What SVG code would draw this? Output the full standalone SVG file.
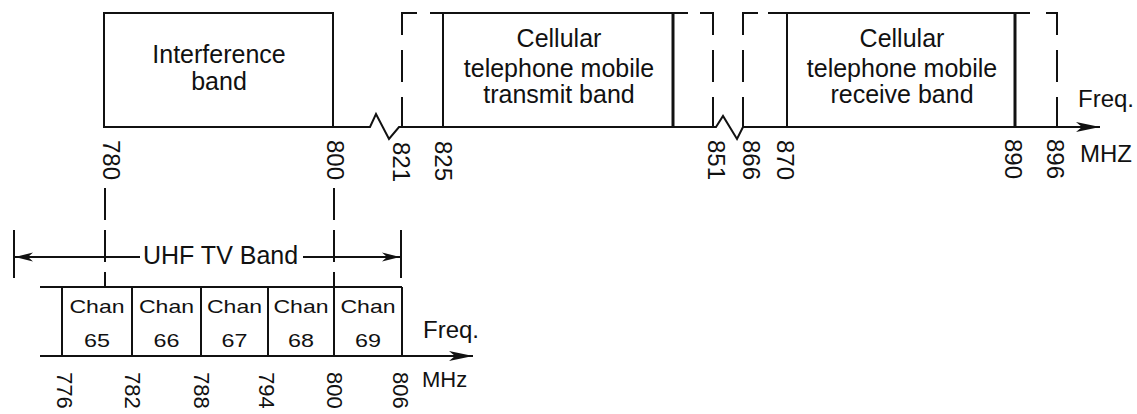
<svg xmlns="http://www.w3.org/2000/svg" width="1137" height="414" viewBox="0 0 1137 414">
<style>
.ln{stroke:#111;stroke-width:2;fill:none}
.thk{stroke:#111;stroke-width:3;fill:none}
.dsh{stroke:#111;stroke-width:2;fill:none;stroke-dasharray:22 15 32 15 40}
.dsh2{stroke:#111;stroke-width:2;fill:none;stroke-dasharray:32 10}
.t{font-family:"Liberation Sans",Arial,sans-serif;fill:#111;font-size:25px}
.c{text-anchor:middle}
.r{font-family:"Liberation Sans",Arial,sans-serif;fill:#111;font-size:24px}
.rb{font-family:"Liberation Sans",Arial,sans-serif;fill:#111;font-size:22px}
.ch{font-family:"Liberation Sans",Arial,sans-serif;fill:#111;font-size:19px;text-anchor:middle}
</style>
<defs>
<marker id="arr" markerWidth="26" markerHeight="12" refX="24" refY="6" orient="auto" markerUnits="userSpaceOnUse">
<path d="M0,1 L24,6 L0,11 L6,6 z" fill="#111"/>
</marker>
<marker id="arrs" markerWidth="20" markerHeight="10" refX="18" refY="5" orient="auto-start-reverse" markerUnits="userSpaceOnUse">
<path d="M0,0.5 L18,5 L0,9.5 L5,5 z" fill="#111"/>
</marker>
</defs>
<rect width="1137" height="414" fill="#fff"/>

<g id="connectors">
<!-- top axis with breaks -->
<path class="ln" d="M104,127 H370 L376,114 L389,139 L399,127 H716 L723,116 L737,139 L743,127 H1100" marker-end="url(#arr)"/>
<!-- lower dashed extension lines -->
<line class="dsh2" x1="105" y1="188" x2="105" y2="287"/>
<line class="dsh2" x1="334" y1="188" x2="334" y2="287"/>
<!-- UHF TV band dimension -->
<line class="ln" x1="14" y1="230" x2="14" y2="278"/>
<line class="ln" x1="401" y1="230" x2="401" y2="278"/>
<line class="ln" x1="140" y1="257" x2="15" y2="257" marker-end="url(#arrs)"/>
<line class="ln" x1="303" y1="257" x2="400" y2="257" marker-end="url(#arrs)"/>
<!-- lower axis -->
<line class="ln" x1="40" y1="356" x2="473" y2="356" marker-end="url(#arr)"/>
</g>

<g id="interference-band">
<rect class="ln" x="104" y="13" width="229" height="114"/>
<text class="t c" x="219" y="63">Interference</text>
<text class="t c" x="219" y="90">band</text>
</g>

<g id="transmit-band">
<line class="dsh" x1="402" y1="13" x2="402" y2="127"/>
<line class="dsh" x1="713" y1="13" x2="713" y2="127"/>
<line class="ln" x1="401" y1="13" x2="417" y2="13"/>
<line class="ln" x1="430" y1="13" x2="688" y2="13"/>
<line class="ln" x1="700" y1="13" x2="714" y2="13"/>
<line class="ln" x1="443" y1="13" x2="443" y2="127"/>
<line class="thk" x1="673" y1="13" x2="673" y2="127"/>
<text class="t c" x="559" y="47">Cellular</text>
<text class="t c" x="559" y="77">telephone mobile</text>
<text class="t c" x="559" y="103">transmit band</text>
</g>

<g id="receive-band">
<line class="dsh" x1="743" y1="13" x2="743" y2="127"/>
<line class="dsh" x1="1057" y1="13" x2="1057" y2="127"/>
<line class="ln" x1="742" y1="13" x2="758" y2="13"/>
<line class="ln" x1="768" y1="13" x2="1030" y2="13"/>
<line class="ln" x1="1046" y1="13" x2="1058" y2="13"/>
<line class="ln" x1="787" y1="13" x2="787" y2="127"/>
<line class="thk" x1="1015" y1="13" x2="1015" y2="127"/>
<text class="t c" x="902" y="47">Cellular</text>
<text class="t c" x="902" y="77">telephone mobile</text>
<text class="t c" x="902" y="103">receive band</text>
</g>

<g id="top-scale">
<text class="r" transform="translate(103,140) rotate(90)">780</text>
<text class="r" transform="translate(327,140) rotate(90)">800</text>
<text class="r" transform="translate(393,142) rotate(90)">821</text>
<text class="r" transform="translate(435,141) rotate(90)">825</text>
<text class="r" transform="translate(708,140) rotate(90)">851</text>
<text class="r" transform="translate(743,140) rotate(90)">866</text>
<text class="r" transform="translate(777,140) rotate(90)">870</text>
<text class="r" transform="translate(1005,139) rotate(90)">890</text>
<text class="r" transform="translate(1047,139) rotate(90)">896</text>
<text class="r" x="1078" y="107">Freq.</text>
<text class="r" x="1080" y="162">MHZ</text>
</g>

<g id="uhf-label">
<text class="t" x="143" y="264">UHF TV Band</text>
</g>

<g id="channels">
<line class="ln" x1="40" y1="287" x2="402" y2="287"/>
<line class="ln" x1="62" y1="287" x2="62" y2="356"/>
<line class="ln" x1="132" y1="287" x2="132" y2="356"/>
<line class="ln" x1="201" y1="287" x2="201" y2="356"/>
<line class="ln" x1="268" y1="287" x2="268" y2="356"/>
<line class="ln" x1="334" y1="287" x2="334" y2="356"/>
<line class="ln" x1="402" y1="287" x2="402" y2="356"/>
<text class="ch" x="97" y="313" textLength="55" lengthAdjust="spacingAndGlyphs">Chan</text>
<text class="ch" x="166.5" y="313" textLength="55" lengthAdjust="spacingAndGlyphs">Chan</text>
<text class="ch" x="234.5" y="313" textLength="55" lengthAdjust="spacingAndGlyphs">Chan</text>
<text class="ch" x="301" y="313" textLength="55" lengthAdjust="spacingAndGlyphs">Chan</text>
<text class="ch" x="368" y="313" textLength="55" lengthAdjust="spacingAndGlyphs">Chan</text>
<text class="ch" x="97" y="347" textLength="26" lengthAdjust="spacingAndGlyphs">65</text>
<text class="ch" x="166.5" y="347" textLength="26" lengthAdjust="spacingAndGlyphs">66</text>
<text class="ch" x="234.5" y="347" textLength="26" lengthAdjust="spacingAndGlyphs">67</text>
<text class="ch" x="301" y="347" textLength="26" lengthAdjust="spacingAndGlyphs">68</text>
<text class="ch" x="368" y="347" textLength="26" lengthAdjust="spacingAndGlyphs">69</text>
</g>

<g id="bottom-scale">
<text class="rb" transform="translate(57,372) rotate(90)">776</text>
<text class="rb" transform="translate(125,372) rotate(90)">782</text>
<text class="rb" transform="translate(194,372) rotate(90)">788</text>
<text class="rb" transform="translate(259,372) rotate(90)">794</text>
<text class="rb" transform="translate(327,372) rotate(90)">800</text>
<text class="rb" transform="translate(393,372) rotate(90)">806</text>
<text class="r" x="423" y="338">Freq.</text>
<text class="rb" x="422" y="387">MHz</text>
</g>
</svg>
